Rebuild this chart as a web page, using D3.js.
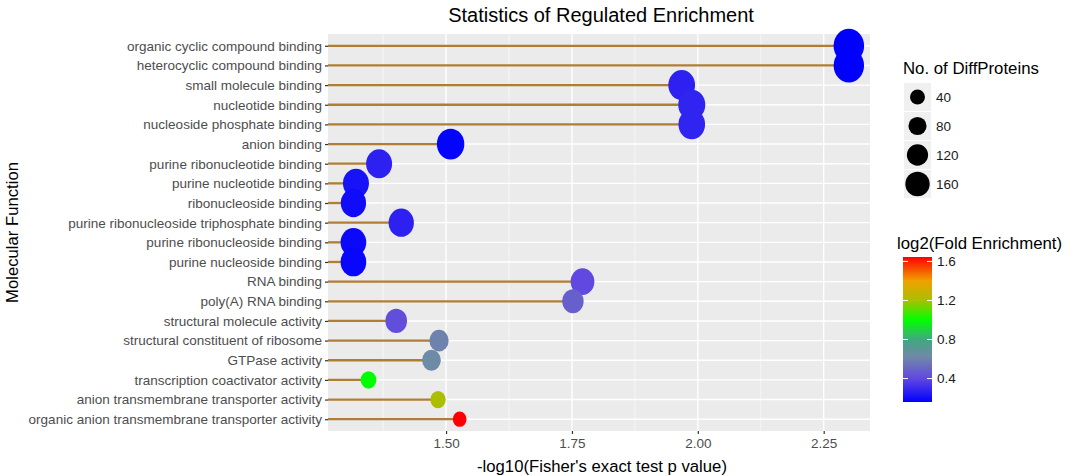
<!DOCTYPE html>
<html>
<head>
<meta charset="utf-8">
<script src="https://cdn.jsdelivr.net/npm/d3@7"></script>
<style>
  body { margin: 0; background: #fff; }
  text { font-family: "Liberation Sans", Arial, sans-serif; }
</style>
</head>
<body>
<svg id="chart" width="1072" height="476"></svg>
<script>
// categories top to bottom
const terms = [
    "organic cyclic compound binding",
    "heterocyclic compound binding",
    "small molecule binding",
    "nucleotide binding",
    "nucleoside phosphate binding",
    "anion binding",
    "purine ribonucleotide binding",
    "purine nucleotide binding",
    "ribonucleoside binding",
    "purine ribonucleoside triphosphate binding",
    "purine ribonucleoside binding",
    "purine nucleoside binding",
    "RNA binding",
    "poly(A) RNA binding",
    "structural molecule activity",
    "structural constituent of ribosome",
    "GTPase activity",
    "transcription coactivator activity",
    "anion transmembrane transporter activity",
    "organic anion transmembrane transporter activity"
];
// -log10(p)
const pvals = [2.30, 2.30, 1.968, 1.988, 1.988, 1.509, 1.367, 1.321, 1.316, 1.411,
               1.316, 1.316, 1.771, 1.752, 1.401, 1.486, 1.471, 1.346, 1.484, 1.527];
// No. of DiffProteins
const counts = [238, 236, 190, 193, 188, 199, 180, 180, 171, 171,
                176, 176, 151, 121, 125, 95, 87, 49, 45, 24];
// log2(Fold Enrichment)
const folds = [0.16, 0.16, 0.27, 0.28, 0.28, 0.17, 0.27, 0.22, 0.20, 0.27,
               0.19, 0.18, 0.40, 0.48, 0.42, 0.60, 0.63, 1.00, 1.21, 1.645];

const xTicks = [1.50, 1.75, 2.00, 2.25];
const sizeBreaks = [40, 80, 120, 160];
const colorBreaks = [0.4, 0.8, 1.2, 1.6];
const colorStops = [0.16, 0.40, 0.62, 0.80, 1.00, 1.20, 1.40, 1.645];
const colorList = ["#0000ff", "#6048e0", "#7088a8", "#40a880", "#00ff00", "#a8c000", "#f0a000", "#ff0000"];

const svg = d3.select("#chart");

const pLeft = 328, pRight = 870, pTop = 34, pBottom = 431;

let x = d3.scaleLinear().domain([1.2655, 2.342]).range([pLeft, pRight]);
let y = d3.scalePoint().domain(terms).range([pTop, pBottom]).padding(0.6);
let size = d3.scaleLinear().domain([0, 250]).range([11.8, 31.5]); // diameter
let color = d3.scaleLinear().domain(colorStops).range(colorList);

let data = terms.map((t, i) => ({ term: t, p: pvals[i], n: counts[i], fe: folds[i] }));

// panel
svg.append("rect")
    .attr("x", pLeft).attr("y", pTop)
    .attr("width", pRight - pLeft).attr("height", pBottom - pTop)
    .attr("fill", "#ebebeb");

// minor grid
let minor = xTicks.map(v => v - 0.125).concat([2.375]).filter(v => v > x.domain()[0] && v < x.domain()[1]);
svg.append("g").selectAll("line")
    .data(minor)
    .enter().append("line")
    .attr("x1", d => x(d)).attr("x2", d => x(d))
    .attr("y1", pTop).attr("y2", pBottom)
    .attr("stroke", "#fafafa").attr("stroke-width", 0.7);

// major grid
svg.append("g").selectAll("line")
    .data(xTicks)
    .enter().append("line")
    .attr("x1", d => x(d)).attr("x2", d => x(d))
    .attr("y1", pTop).attr("y2", pBottom)
    .attr("stroke", "#fff").attr("stroke-width", 1.4);

svg.append("g").selectAll("line")
    .data(terms)
    .enter().append("line")
    .attr("x1", pLeft).attr("x2", pRight)
    .attr("y1", d => y(d)).attr("y2", d => y(d))
    .attr("stroke", "#fff").attr("stroke-width", 1.4);

// lollipop sticks
svg.append("g").selectAll("line")
    .data(data)
    .enter().append("line")
    .attr("x1", pLeft).attr("x2", d => x(d.p))
    .attr("y1", d => y(d.term)).attr("y2", d => y(d.term))
    .attr("stroke", "#b07d35").attr("stroke-width", 2.3);

// dots (slightly taller than wide, as in the original)
svg.append("g").selectAll("ellipse")
    .data(data)
    .enter().append("ellipse")
    .attr("cx", d => x(d.p))
    .attr("cy", d => y(d.term))
    .attr("rx", d => size(d.n) / 2)
    .attr("ry", d => size(d.n) / 2 * 1.12)
    .attr("fill", d => color(d.fe));

// axes
let xAxis = svg.append("g")
    .attr("transform", "translate(0," + pBottom + ")")
    .call(d3.axisBottom(x).tickValues(xTicks).tickFormat(d3.format(".2f")).tickSize(3).tickPadding(4));
let yAxis = svg.append("g")
    .attr("transform", "translate(" + pLeft + ",0)")
    .call(d3.axisLeft(y).tickSize(3).tickPadding(3));

[xAxis, yAxis].forEach(a => {
    a.select(".domain").remove();
    a.selectAll(".tick line").attr("stroke", "#333").attr("stroke-width", 1.2);
    a.selectAll(".tick text")
        .attr("fill", "#4d4d4d")
        .style("font-size", "13.5px")
        .style("font-family", "'Liberation Sans', Arial, sans-serif");
});

// titles
svg.append("text")
    .attr("x", 601).attr("y", 22)
    .attr("text-anchor", "middle")
    .style("font-size", "20px")
    .text("Statistics of Regulated Enrichment");

svg.append("text")
    .attr("x", 602).attr("y", 472)
    .attr("text-anchor", "middle")
    .style("font-size", "16.7px")
    .text("-log10(Fisher's exact test p value)");

svg.append("text")
    .attr("transform", "translate(18," + ((pTop + pBottom) / 2) + ") rotate(-90)")
    .attr("text-anchor", "middle")
    .style("font-size", "16.7px")
    .text("Molecular Function");

// size legend
let sizeLeg = svg.append("g").attr("transform", "translate(904,0)");
sizeLeg.append("text")
    .attr("x", -1).attr("y", 74)
    .style("font-size", "16.8px")
    .text("No. of DiffProteins");

let keys = sizeLeg.selectAll(".key")
    .data(sizeBreaks)
    .enter().append("g")
    .attr("class", "key")
    .attr("transform", (d, i) => "translate(0," + (83 + i * 29) + ")");

keys.append("rect")
    .attr("width", 27).attr("height", 28)
    .attr("fill", "#f0f0f0");
keys.append("circle")
    .attr("cx", 13.5).attr("cy", 14)
    .attr("r", d => size(d) / 2)
    .attr("fill", "#000");
keys.append("text")
    .attr("x", 32).attr("y", 14).attr("dy", "0.35em")
    .style("font-size", "13.5px")
    .attr("fill", "#1a1a1a")
    .text(d => d);

// colour legend
let barTop = 257, barBottom = 402, barX = 903, barW = 29;
let cy = d3.scaleLinear().domain([colorStops[0], colorStops[colorStops.length - 1]]).range([barBottom, barTop]);

svg.append("text")
    .attr("x", 897).attr("y", 249)
    .style("font-size", "16.8px")
    .text("log2(Fold Enrichment)");

let defs = svg.append("defs");
let grad = defs.append("linearGradient")
    .attr("id", "fegrad")
    .attr("x1", "0").attr("y1", "1").attr("x2", "0").attr("y2", "0");
grad.selectAll("stop")
    .data(colorStops)
    .enter().append("stop")
    .attr("offset", d => (d - colorStops[0]) / (colorStops[colorStops.length - 1] - colorStops[0]))
    .attr("stop-color", d => color(d));

svg.append("rect")
    .attr("x", barX).attr("y", barTop)
    .attr("width", barW).attr("height", barBottom - barTop)
    .attr("fill", "url(#fegrad)");

let cticks = svg.append("g").selectAll("g")
    .data(colorBreaks)
    .enter().append("g");
cticks.append("line")
    .attr("x1", barX).attr("x2", barX + 5)
    .attr("y1", d => cy(d)).attr("y2", d => cy(d))
    .attr("stroke", "#fff").attr("stroke-width", 1);
cticks.append("line")
    .attr("x1", barX + barW - 5).attr("x2", barX + barW)
    .attr("y1", d => cy(d)).attr("y2", d => cy(d))
    .attr("stroke", "#fff").attr("stroke-width", 1);
cticks.append("text")
    .attr("x", barX + barW + 5).attr("y", d => cy(d)).attr("dy", "0.35em")
    .style("font-size", "13.5px")
    .attr("fill", "#1a1a1a")
    .text(d => d.toFixed(1));
</script>
</body>
</html>
